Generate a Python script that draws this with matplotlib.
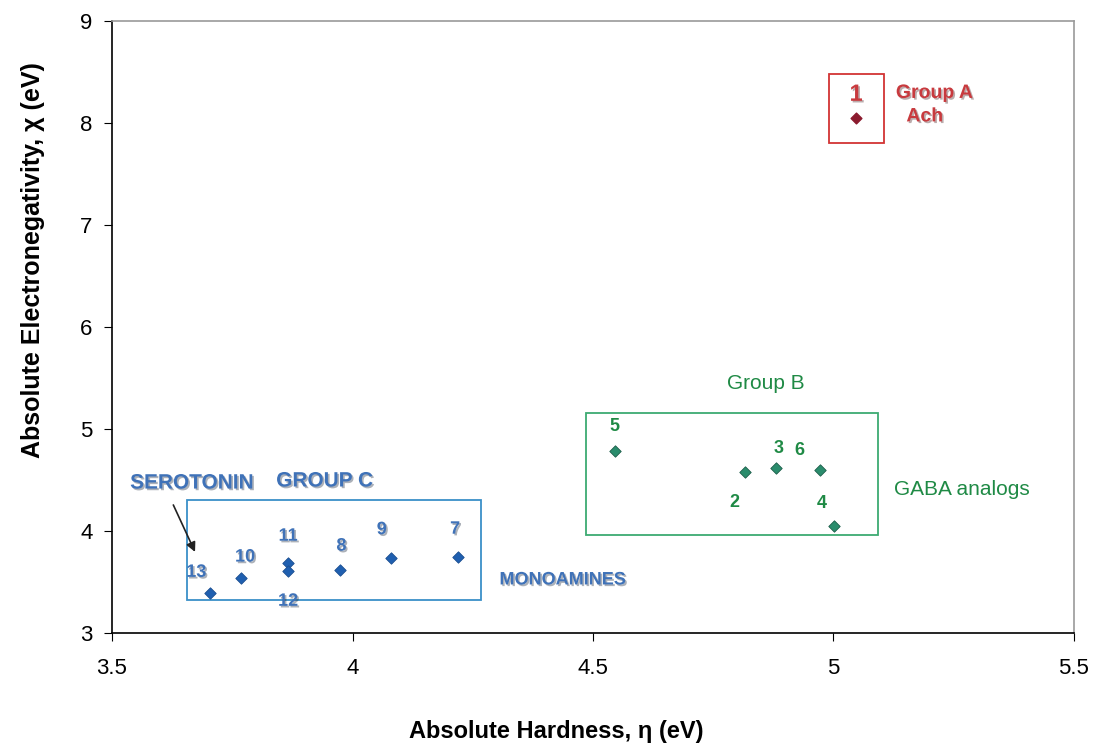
import matplotlib.pyplot as plt
import matplotlib.patheffects as pe
from matplotlib.patches import Rectangle

# === Data ===
group_a_ids = ["1"]
group_a_x = [5.047]
group_a_y = [8.05]

group_b_ids = ["2", "3", "4", "5", "6"]
group_b_x = [4.817, 4.881, 5.002, 4.545, 4.972]
group_b_y = [4.58, 4.62, 4.05, 4.78, 4.60]

group_c_ids = ["7", "8", "9", "10", "11", "12", "13"]
group_c_x = [4.219, 3.974, 4.081, 3.768, 3.866, 3.866, 3.704]
group_c_y = [3.745, 3.62, 3.74, 3.54, 3.69, 3.61, 3.39]

# label offsets (points) for the compound numbers
b_offsets = {"2": (-8, -22), "3": (2, 14), "4": (-9, 16), "5": (0, 18), "6": (-15, 14)}
c_offsets = {"7": (-2, 20), "8": (1, 17), "9": (-7, 20), "10": (3, 15), "11": (0, 19),
             "12": (0, -22), "13": (-10, 15)}

plt.rcParams['font.family'] = ['Liberation Sans', 'DejaVu Sans']

fig = plt.figure(figsize=(10.93, 7.46), dpi=100)
ax = fig.add_axes([0.1025, 0.1515, 0.8801, 0.8203])

red_m = "#8B1A2E"
red_t = "#C83A3E"
green_m = "#2A8C6C"
green_t = "#1F8A45"
blue_m = "#1F5FB0"
blue_t = "#3F72B8"

ax.scatter(group_a_x, group_a_y, marker="D", s=30, color=red_m, zorder=3)
ax.scatter(group_b_x, group_b_y, marker="D", s=34, color=green_m, edgecolor="#1D5E4A", linewidth=0.6, zorder=3)
ax.scatter(group_c_x, group_c_y, marker="D", s=34, color=blue_m, edgecolor="#1A4E90", linewidth=0.6, zorder=3)

shadow = [pe.SimplePatchShadow(offset=(1.2, -1.2), alpha=0.35), pe.Normal()]

for i, lab in enumerate(group_a_ids):
    ax.annotate(lab, (group_a_x[i], group_a_y[i]), xytext=(0, 17), textcoords="offset points",
                ha="center", va="center", fontsize=17, fontweight="bold", color=red_t,
                path_effects=shadow)
for i, lab in enumerate(group_b_ids):
    ax.annotate(lab, (group_b_x[i], group_b_y[i]), xytext=b_offsets[lab], textcoords="offset points",
                ha="center", va="center", fontsize=13, fontweight="bold", color=green_t)
for i, lab in enumerate(group_c_ids):
    ax.annotate(lab, (group_c_x[i], group_c_y[i]), xytext=c_offsets[lab], textcoords="offset points",
                ha="center", va="center", fontsize=13, fontweight="bold", color=blue_t,
                path_effects=shadow)

# group boxes
ax.add_patch(Rectangle((4.991, 7.80), 0.114, 0.68, fill=False, edgecolor="#D23434", linewidth=1.3, zorder=2))
ax.add_patch(Rectangle((4.486, 3.96), 0.607, 1.195, fill=False, edgecolor="#3DAA72", linewidth=1.3, zorder=2))
ax.add_patch(Rectangle((3.656, 3.325), 0.612, 0.975, fill=False, edgecolor="#3A90C8", linewidth=1.3, zorder=2))

# group annotations
ax.text(5.21, 8.29, "Group A", ha="center", va="center", fontsize=14, fontweight="bold",
        color=red_t, path_effects=shadow)
ax.text(5.19, 8.06, "Ach", ha="center", va="center", fontsize=14, fontweight="bold",
        color=red_t, path_effects=shadow)
ax.text(4.86, 5.45, "Group B", ha="center", va="center", fontsize=15, color=green_t)
ax.text(5.267, 4.41, "GABA analogs", ha="center", va="center", fontsize=15, color=green_t)
ax.text(3.666, 4.47, "SEROTONIN", ha="center", va="center", fontsize=15, fontweight="bold",
        color=blue_t, path_effects=shadow)
ax.text(3.942, 4.49, "GROUP C", ha="center", va="center", fontsize=15, fontweight="bold",
        color=blue_t, path_effects=shadow)
ax.text(4.437, 3.52, "MONOAMINES", ha="center", va="center", fontsize=13, fontweight="bold",
        color=blue_t, path_effects=shadow)

ax.annotate("", xy=(3.675, 3.77), xytext=(3.625, 4.28),
            arrowprops=dict(arrowstyle="-|>", color="#222222", lw=1.2, mutation_scale=14))

ax.set_xlim(3.5, 5.5)
ax.set_ylim(3, 9)
ax.set_xticks([3.5, 4, 4.5, 5, 5.5])
ax.set_xticklabels(["3.5", "4", "4.5", "5", "5.5"])
ax.set_yticks([3, 4, 5, 6, 7, 8, 9])

ax.tick_params(axis="both", direction="out", length=6, labelsize=16, colors="black")
ax.tick_params(axis="x", pad=12)
ax.tick_params(axis="y", pad=8)

for s in ["left", "bottom"]:
    ax.spines[s].set_color("black")
    ax.spines[s].set_linewidth(1.2)
for s in ["top", "right"]:
    ax.spines[s].set_color("#9A9A9A")
    ax.spines[s].set_linewidth(1.2)

ax.set_xlabel("Absolute Hardness, η (eV)", fontsize=17, fontweight="bold")
ax.set_ylabel("Absolute Electronegativity, χ (eV)", fontsize=18, fontweight="bold")
ax.xaxis.set_label_coords(0.4615, -0.142)
ax.yaxis.set_label_coords(-0.07, 0.61)

plt.savefig("out.png", dpi=100)
plt.close()
